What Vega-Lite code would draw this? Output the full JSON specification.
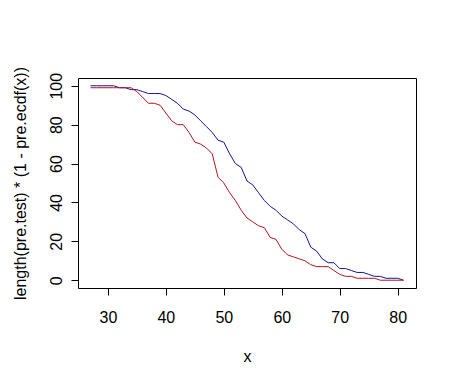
{
  "$schema": "https://vega.github.io/schema/vega-lite/v6.json",
  "width": 338,
  "height": 210,
  "autosize": "none",
  "padding": {"left": 78, "top": 78, "right": 41, "bottom": 98},
  "background": "white",
  "config": {
    "view": {"stroke": "black", "strokeWidth": 1},
    "font": "Liberation Sans",
    "axis": {
      "grid": false,
      "domain": false,
      "tickColor": "black",
      "tickSize": 7,
      "labelFont": "Liberation Sans",
      "labelFontSize": 16,
      "labelColor": "black",
      "titleFont": "Liberation Sans",
      "titleFontSize": 16,
      "titleFontWeight": "normal",
      "titleColor": "black"
    }
  },
  "data": {
    "values": [
      {"x": 27, "y": 100, "series": "blue"}, {"x": 28, "y": 100, "series": "blue"}, {"x": 29, "y": 100, "series": "blue"},
      {"x": 30, "y": 100, "series": "blue"}, {"x": 31, "y": 100, "series": "blue"}, {"x": 32, "y": 99, "series": "blue"},
      {"x": 33, "y": 99, "series": "blue"}, {"x": 34, "y": 98, "series": "blue"}, {"x": 35, "y": 98, "series": "blue"},
      {"x": 36, "y": 97, "series": "blue"}, {"x": 37, "y": 96, "series": "blue"}, {"x": 38, "y": 96, "series": "blue"},
      {"x": 39, "y": 96, "series": "blue"}, {"x": 40, "y": 95, "series": "blue"}, {"x": 41, "y": 93, "series": "blue"},
      {"x": 42, "y": 91, "series": "blue"}, {"x": 43, "y": 88, "series": "blue"}, {"x": 44, "y": 87, "series": "blue"},
      {"x": 45, "y": 85, "series": "blue"}, {"x": 46, "y": 82, "series": "blue"}, {"x": 47, "y": 79, "series": "blue"},
      {"x": 48, "y": 76, "series": "blue"}, {"x": 49, "y": 72, "series": "blue"}, {"x": 50, "y": 71, "series": "blue"},
      {"x": 51, "y": 65, "series": "blue"}, {"x": 52, "y": 60, "series": "blue"}, {"x": 53, "y": 58, "series": "blue"},
      {"x": 54, "y": 51, "series": "blue"}, {"x": 55, "y": 49, "series": "blue"}, {"x": 56, "y": 45, "series": "blue"},
      {"x": 57, "y": 41, "series": "blue"}, {"x": 58, "y": 38, "series": "blue"}, {"x": 59, "y": 36, "series": "blue"},
      {"x": 60, "y": 33, "series": "blue"}, {"x": 61, "y": 31, "series": "blue"}, {"x": 62, "y": 29, "series": "blue"},
      {"x": 63, "y": 26, "series": "blue"}, {"x": 64, "y": 24, "series": "blue"}, {"x": 65, "y": 17, "series": "blue"},
      {"x": 66, "y": 15, "series": "blue"}, {"x": 67, "y": 11, "series": "blue"}, {"x": 68, "y": 9, "series": "blue"},
      {"x": 69, "y": 9, "series": "blue"}, {"x": 70, "y": 6, "series": "blue"}, {"x": 71, "y": 6, "series": "blue"},
      {"x": 72, "y": 5, "series": "blue"}, {"x": 73, "y": 4, "series": "blue"}, {"x": 74, "y": 4, "series": "blue"},
      {"x": 75, "y": 3, "series": "blue"}, {"x": 76, "y": 2, "series": "blue"}, {"x": 77, "y": 2, "series": "blue"},
      {"x": 78, "y": 1, "series": "blue"}, {"x": 79, "y": 1, "series": "blue"}, {"x": 80, "y": 1, "series": "blue"},
      {"x": 81, "y": 0, "series": "blue"},
      {"x": 27, "y": 99, "series": "red"}, {"x": 28, "y": 99, "series": "red"}, {"x": 29, "y": 99, "series": "red"},
      {"x": 30, "y": 99, "series": "red"}, {"x": 31, "y": 99, "series": "red"}, {"x": 32, "y": 99, "series": "red"},
      {"x": 33, "y": 99, "series": "red"}, {"x": 34, "y": 99, "series": "red"}, {"x": 35, "y": 97, "series": "red"},
      {"x": 36, "y": 94, "series": "red"}, {"x": 37, "y": 91, "series": "red"}, {"x": 38, "y": 91, "series": "red"},
      {"x": 39, "y": 90, "series": "red"}, {"x": 40, "y": 86, "series": "red"}, {"x": 41, "y": 82, "series": "red"},
      {"x": 42, "y": 80, "series": "red"}, {"x": 43, "y": 80, "series": "red"}, {"x": 44, "y": 76, "series": "red"},
      {"x": 45, "y": 71, "series": "red"}, {"x": 46, "y": 70, "series": "red"}, {"x": 47, "y": 68, "series": "red"},
      {"x": 48, "y": 65, "series": "red"}, {"x": 49, "y": 53, "series": "red"}, {"x": 50, "y": 50, "series": "red"},
      {"x": 51, "y": 45, "series": "red"}, {"x": 52, "y": 41, "series": "red"}, {"x": 53, "y": 36, "series": "red"},
      {"x": 54, "y": 32, "series": "red"}, {"x": 55, "y": 30, "series": "red"}, {"x": 56, "y": 28, "series": "red"},
      {"x": 57, "y": 27, "series": "red"}, {"x": 58, "y": 22, "series": "red"}, {"x": 59, "y": 21, "series": "red"},
      {"x": 60, "y": 16, "series": "red"}, {"x": 61, "y": 13, "series": "red"}, {"x": 62, "y": 12, "series": "red"},
      {"x": 63, "y": 11, "series": "red"}, {"x": 64, "y": 10, "series": "red"}, {"x": 65, "y": 8, "series": "red"},
      {"x": 66, "y": 7, "series": "red"}, {"x": 67, "y": 7, "series": "red"}, {"x": 68, "y": 7, "series": "red"},
      {"x": 69, "y": 5, "series": "red"}, {"x": 70, "y": 3, "series": "red"}, {"x": 71, "y": 2, "series": "red"},
      {"x": 72, "y": 2, "series": "red"}, {"x": 73, "y": 1, "series": "red"}, {"x": 74, "y": 1, "series": "red"},
      {"x": 75, "y": 1, "series": "red"}, {"x": 76, "y": 1, "series": "red"}, {"x": 77, "y": 0, "series": "red"},
      {"x": 78, "y": 0, "series": "red"}, {"x": 79, "y": 0, "series": "red"}, {"x": 80, "y": 0, "series": "red"},
      {"x": 81, "y": 0, "series": "red"}
    ]
  },
  "mark": {"type": "line", "strokeWidth": 1, "interpolate": "linear"},
  "encoding": {
    "x": {
      "field": "x",
      "type": "quantitative",
      "scale": {"domain": [24.84, 83.16], "nice": false, "zero": false},
      "axis": {"values": [30, 40, 50, 60, 70, 80], "title": "x", "labelPadding": 14, "titlePadding": 23, "labelFlush": false}
    },
    "y": {
      "field": "y",
      "type": "quantitative",
      "scale": {"domain": [-4, 104], "nice": false, "zero": false},
      "axis": {
        "values": [0, 20, 40, 60, 80, 100],
        "title": "length(pre.test) * (1 - pre.ecdf(x))",
        "labelAngle": -90,
        "labelAlign": "center",
        "labelBaseline": "bottom",
        "labelPadding": 7,
        "labelFlush": false,
        "titlePadding": 20
      }
    },
    "color": {
      "field": "series",
      "type": "nominal",
      "scale": {"domain": ["blue", "red"], "range": ["#14148c", "#b4141e"]},
      "legend": null
    }
  }
}
